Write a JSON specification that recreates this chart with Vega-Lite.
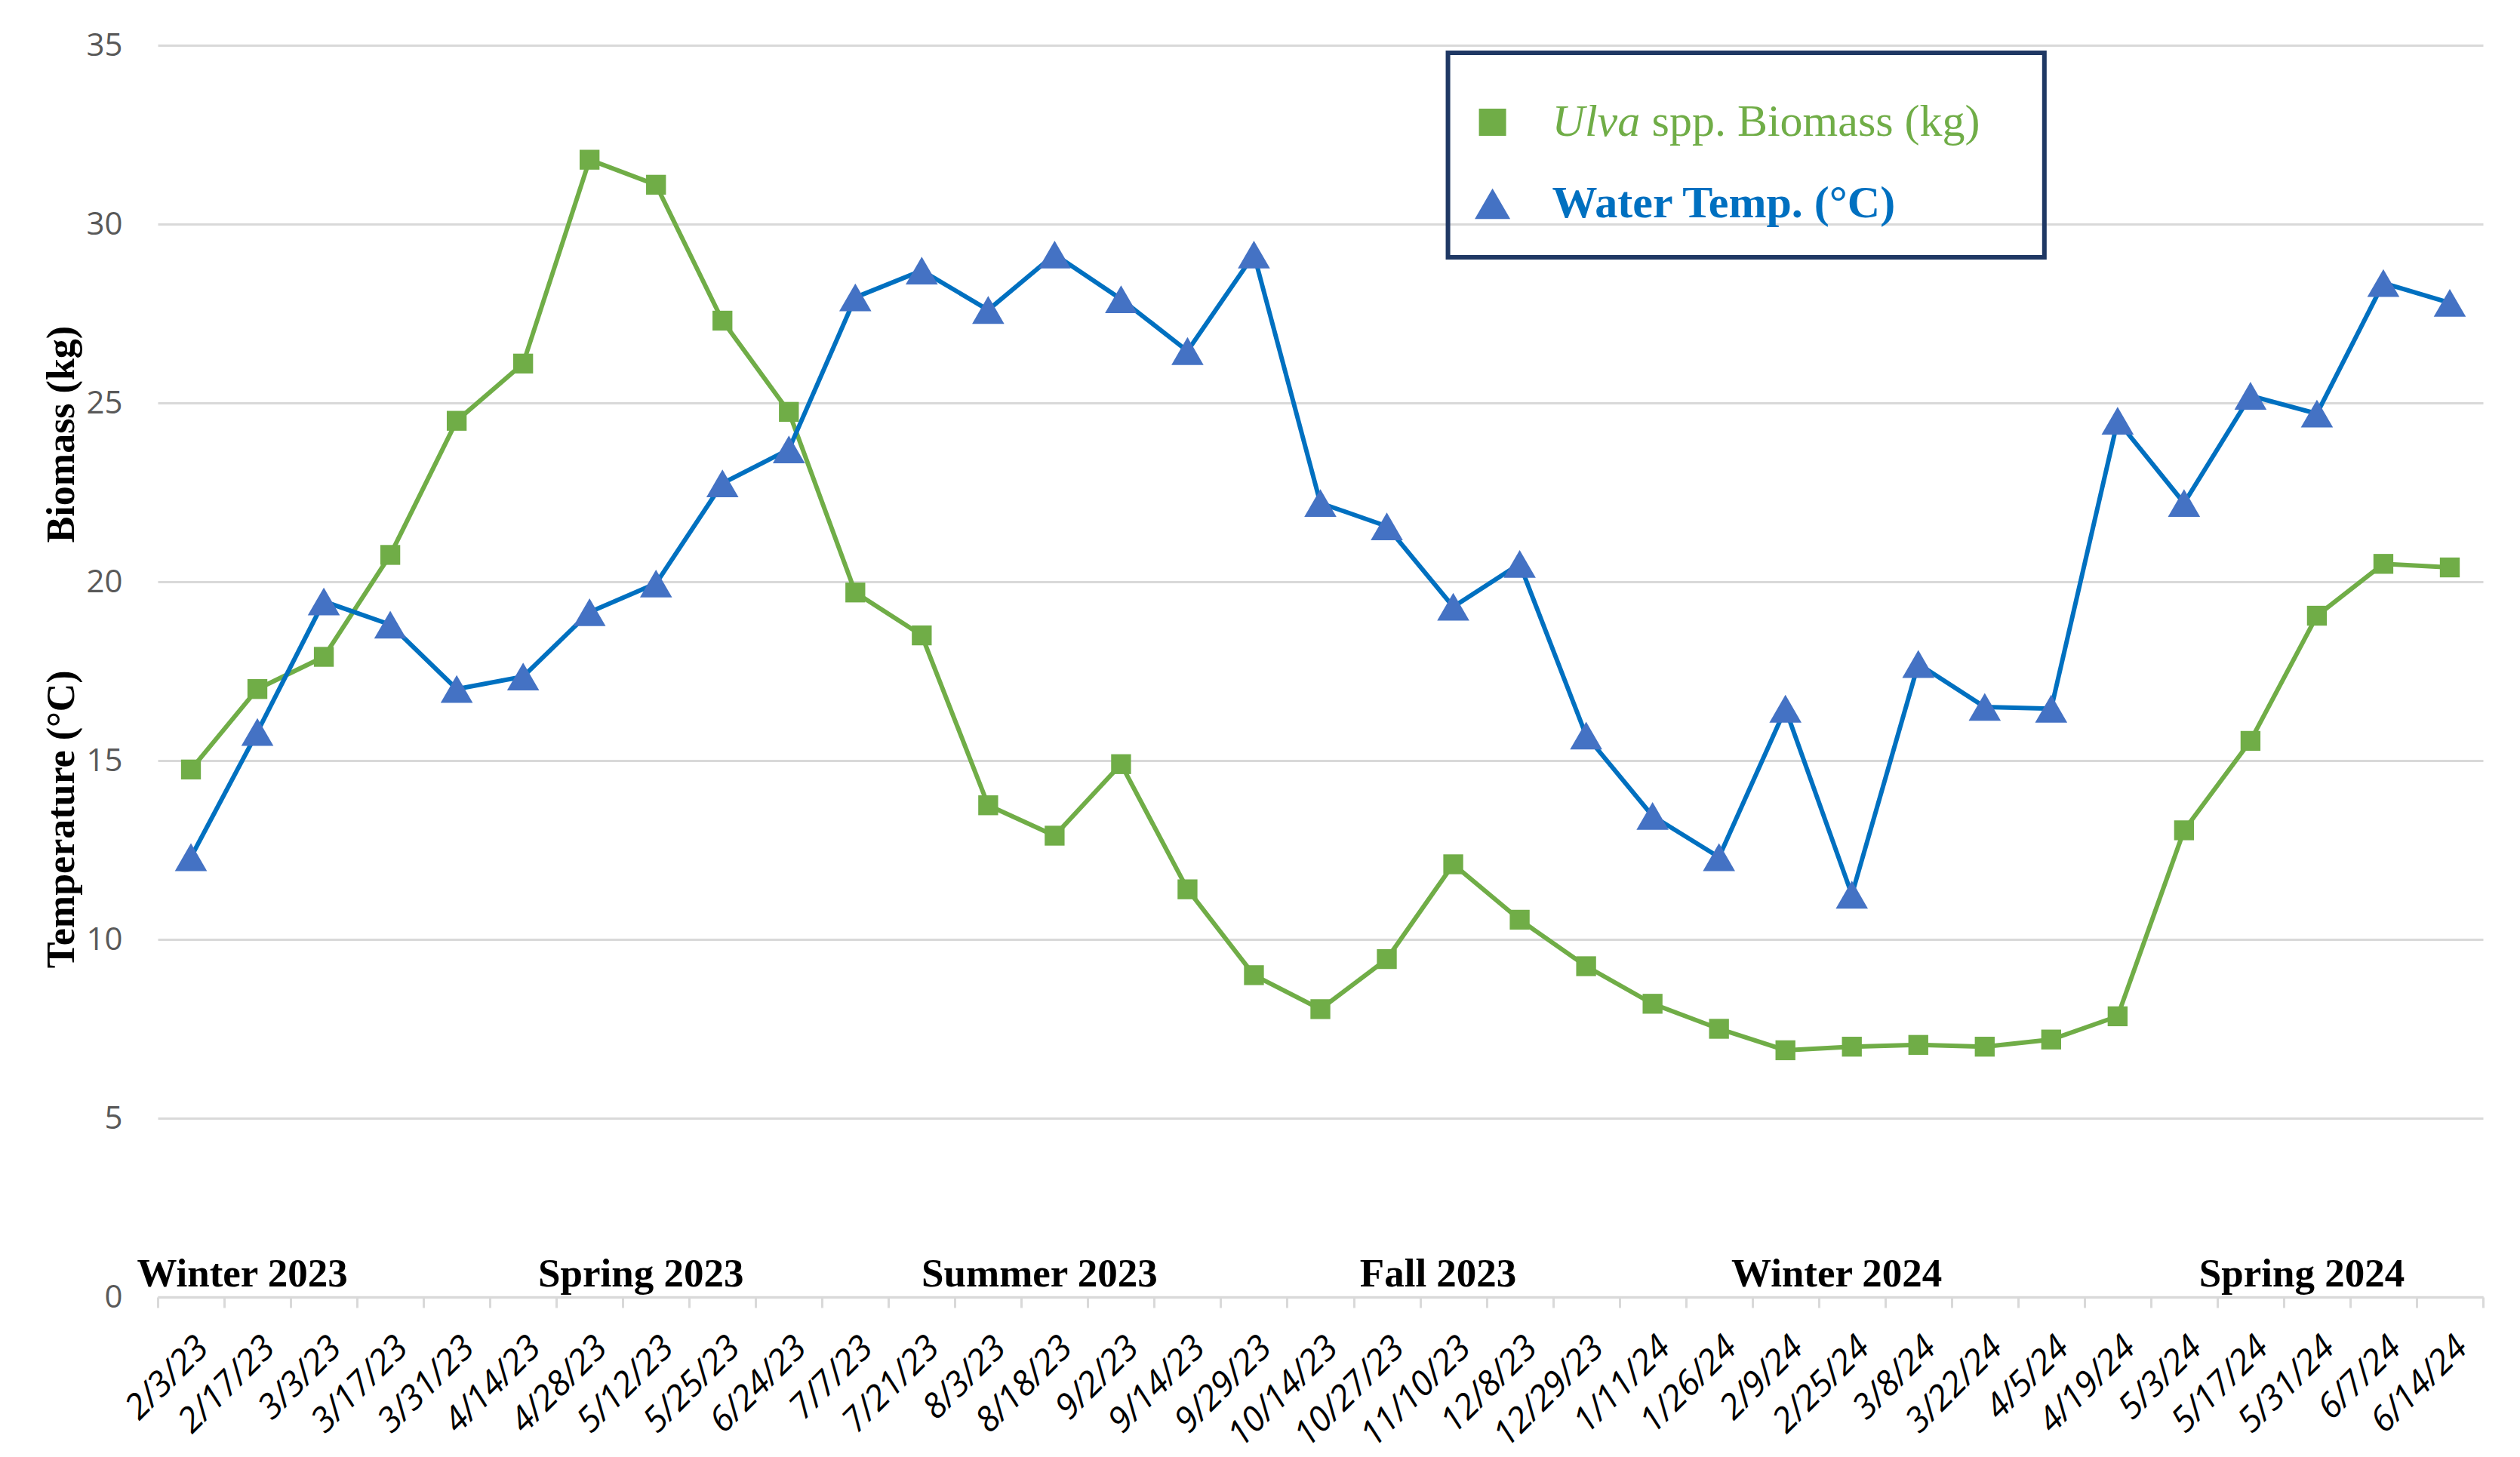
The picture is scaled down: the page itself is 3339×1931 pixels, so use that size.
{
  "$schema": "https://vega.github.io/schema/vega-lite/v6.json",
  "width": 3081,
  "height": 1659,
  "autosize": {"type": "none"},
  "padding": {"left": 209, "top": 60, "right": 49, "bottom": 212},
  "background": "white",
  "config": {
    "view": {"stroke": null}
  },
  "datasets": {
    "series": [
      {"date": "2/3/23", "series": "Ulva spp. Biomass (kg)", "value": 14.75},
      {"date": "2/17/23", "series": "Ulva spp. Biomass (kg)", "value": 17.0},
      {"date": "3/3/23", "series": "Ulva spp. Biomass (kg)", "value": 17.9},
      {"date": "3/17/23", "series": "Ulva spp. Biomass (kg)", "value": 20.75},
      {"date": "3/31/23", "series": "Ulva spp. Biomass (kg)", "value": 24.5},
      {"date": "4/14/23", "series": "Ulva spp. Biomass (kg)", "value": 26.1},
      {"date": "4/28/23", "series": "Ulva spp. Biomass (kg)", "value": 31.8},
      {"date": "5/12/23", "series": "Ulva spp. Biomass (kg)", "value": 31.1},
      {"date": "5/25/23", "series": "Ulva spp. Biomass (kg)", "value": 27.3},
      {"date": "6/24/23", "series": "Ulva spp. Biomass (kg)", "value": 24.75},
      {"date": "7/7/23", "series": "Ulva spp. Biomass (kg)", "value": 19.7},
      {"date": "7/21/23", "series": "Ulva spp. Biomass (kg)", "value": 18.5},
      {"date": "8/3/23", "series": "Ulva spp. Biomass (kg)", "value": 13.75},
      {"date": "8/18/23", "series": "Ulva spp. Biomass (kg)", "value": 12.9},
      {"date": "9/2/23", "series": "Ulva spp. Biomass (kg)", "value": 14.9},
      {"date": "9/14/23", "series": "Ulva spp. Biomass (kg)", "value": 11.4},
      {"date": "9/29/23", "series": "Ulva spp. Biomass (kg)", "value": 9.0},
      {"date": "10/14/23", "series": "Ulva spp. Biomass (kg)", "value": 8.05},
      {"date": "10/27/23", "series": "Ulva spp. Biomass (kg)", "value": 9.45},
      {"date": "11/10/23", "series": "Ulva spp. Biomass (kg)", "value": 12.1},
      {"date": "12/8/23", "series": "Ulva spp. Biomass (kg)", "value": 10.55},
      {"date": "12/29/23", "series": "Ulva spp. Biomass (kg)", "value": 9.25},
      {"date": "1/11/24", "series": "Ulva spp. Biomass (kg)", "value": 8.2},
      {"date": "1/26/24", "series": "Ulva spp. Biomass (kg)", "value": 7.5},
      {"date": "2/9/24", "series": "Ulva spp. Biomass (kg)", "value": 6.9},
      {"date": "2/25/24", "series": "Ulva spp. Biomass (kg)", "value": 7.0},
      {"date": "3/8/24", "series": "Ulva spp. Biomass (kg)", "value": 7.05},
      {"date": "3/22/24", "series": "Ulva spp. Biomass (kg)", "value": 7.0},
      {"date": "4/5/24", "series": "Ulva spp. Biomass (kg)", "value": 7.2},
      {"date": "4/19/24", "series": "Ulva spp. Biomass (kg)", "value": 7.85},
      {"date": "5/3/24", "series": "Ulva spp. Biomass (kg)", "value": 13.05},
      {"date": "5/17/24", "series": "Ulva spp. Biomass (kg)", "value": 15.55},
      {"date": "5/31/24", "series": "Ulva spp. Biomass (kg)", "value": 19.05},
      {"date": "6/7/24", "series": "Ulva spp. Biomass (kg)", "value": 20.5},
      {"date": "6/14/24", "series": "Ulva spp. Biomass (kg)", "value": 20.4},
      {"date": "2/3/23", "series": "Water Temp. (°C)", "value": 12.3},
      {"date": "2/17/23", "series": "Water Temp. (°C)", "value": 15.8},
      {"date": "3/3/23", "series": "Water Temp. (°C)", "value": 19.45},
      {"date": "3/17/23", "series": "Water Temp. (°C)", "value": 18.8},
      {"date": "3/31/23", "series": "Water Temp. (°C)", "value": 17.0},
      {"date": "4/14/23", "series": "Water Temp. (°C)", "value": 17.35},
      {"date": "4/28/23", "series": "Water Temp. (°C)", "value": 19.15},
      {"date": "5/12/23", "series": "Water Temp. (°C)", "value": 19.95},
      {"date": "5/25/23", "series": "Water Temp. (°C)", "value": 22.75},
      {"date": "6/24/23", "series": "Water Temp. (°C)", "value": 23.7},
      {"date": "7/7/23", "series": "Water Temp. (°C)", "value": 27.95},
      {"date": "7/21/23", "series": "Water Temp. (°C)", "value": 28.7},
      {"date": "8/3/23", "series": "Water Temp. (°C)", "value": 27.6},
      {"date": "8/18/23", "series": "Water Temp. (°C)", "value": 29.15},
      {"date": "9/2/23", "series": "Water Temp. (°C)", "value": 27.9},
      {"date": "9/14/23", "series": "Water Temp. (°C)", "value": 26.45},
      {"date": "9/29/23", "series": "Water Temp. (°C)", "value": 29.15},
      {"date": "10/14/23", "series": "Water Temp. (°C)", "value": 22.2},
      {"date": "10/27/23", "series": "Water Temp. (°C)", "value": 21.55},
      {"date": "11/10/23", "series": "Water Temp. (°C)", "value": 19.3},
      {"date": "12/8/23", "series": "Water Temp. (°C)", "value": 20.5},
      {"date": "12/29/23", "series": "Water Temp. (°C)", "value": 15.7},
      {"date": "1/11/24", "series": "Water Temp. (°C)", "value": 13.45},
      {"date": "1/26/24", "series": "Water Temp. (°C)", "value": 12.3},
      {"date": "2/9/24", "series": "Water Temp. (°C)", "value": 16.45},
      {"date": "2/25/24", "series": "Water Temp. (°C)", "value": 11.25},
      {"date": "3/8/24", "series": "Water Temp. (°C)", "value": 17.7},
      {"date": "3/22/24", "series": "Water Temp. (°C)", "value": 16.5},
      {"date": "4/5/24", "series": "Water Temp. (°C)", "value": 16.45},
      {"date": "4/19/24", "series": "Water Temp. (°C)", "value": 24.5},
      {"date": "5/3/24", "series": "Water Temp. (°C)", "value": 22.2},
      {"date": "5/17/24", "series": "Water Temp. (°C)", "value": 25.2},
      {"date": "5/31/24", "series": "Water Temp. (°C)", "value": 24.7},
      {"date": "6/7/24", "series": "Water Temp. (°C)", "value": 28.35},
      {"date": "6/14/24", "series": "Water Temp. (°C)", "value": 27.8}
    ],
    "seasons": [
      {"date": "2/17/23", "season": "Winter 2023", "level": 0.3},
      {"date": "5/12/23", "season": "Spring 2023", "level": 0.3},
      {"date": "8/18/23", "season": "Summer 2023", "level": 0.3},
      {"date": "11/10/23", "season": "Fall 2023", "level": 0.3},
      {"date": "2/25/24", "season": "Winter 2024", "level": 0.3},
      {"date": "5/31/24", "season": "Spring 2024", "level": 0.3}
    ]
  },
  "layer": [
    {
      "data": {"name": "series"},
      "mark": {"type": "line", "strokeWidth": 6},
      "encoding": {
        "x": {
          "field": "date",
          "type": "nominal",
          "scale": {
            "type": "band",
            "paddingInner": 0,
            "paddingOuter": 0,
            "domain": ["2/3/23", "2/17/23", "3/3/23", "3/17/23", "3/31/23", "4/14/23", "4/28/23", "5/12/23", "5/25/23", "6/24/23", "7/7/23", "7/21/23", "8/3/23", "8/18/23", "9/2/23", "9/14/23", "9/29/23", "10/14/23", "10/27/23", "11/10/23", "12/8/23", "12/29/23", "1/11/24", "1/26/24", "2/9/24", "2/25/24", "3/8/24", "3/22/24", "4/5/24", "4/19/24", "5/3/24", "5/17/24", "5/31/24", "6/7/24", "6/14/24"]
          },
          "axis": {
            "title": null,
            "labelAngle": -45,
            "labelAlign": "right",
            "labelBaseline": "top",
            "labelFont": "Open Sans",
            "labelFontStyle": "italic",
            "labelFontSize": 46,
            "labelColor": "black",
            "labelPadding": 30,
            "labelLimit": 0,
            "labelOverlap": false,
            "labelBound": false,
            "tickBand": "extent",
            "tickSize": 14,
            "tickColor": "#D9D9D9",
            "tickWidth": 3,
            "domainColor": "#D9D9D9",
            "domainWidth": 3.5,
            "grid": false
          }
        },
        "y": {
          "field": "value",
          "type": "quantitative",
          "scale": {"domain": [0, 35], "nice": false},
          "axis": {
            "values": [0, 5, 10, 15, 20, 25, 30, 35],
            "grid": true,
            "gridColor": "#D9D9D9",
            "gridWidth": 3,
            "domain": false,
            "ticks": false,
            "labelFont": "Open Sans",
            "labelFontSize": 42,
            "labelColor": "#595959",
            "labelPadding": 47,
            "title": "Temperature (°C)\u00a0\u00a0\u00a0\u00a0\u00a0\u00a0\u00a0\u00a0\u00a0\u00a0\u00a0\u00a0\u00a0Biomass (kg)",
            "titleFont": "Liberation Serif",
            "titleFontWeight": "bold",
            "titleFontSize": 52,
            "titleColor": "black",
            "titleAngle": -90,
            "titleX": -128,
            "titleY": 797,
            "titleAlign": "center",
            "titleBaseline": "middle"
          }
        },
        "color": {
          "field": "series",
          "type": "nominal",
          "scale": {"domain": ["Ulva spp. Biomass (kg)", "Water Temp. (°C)"], "range": ["#70AD47", "#0070C0"]},
          "legend": null
        }
      }
    },
    {
      "data": {"name": "series"},
      "mark": {"type": "point", "filled": true, "opacity": 1, "strokeWidth": 0, "size": 1500},
      "encoding": {
        "x": {"field": "date", "type": "nominal"},
        "y": {"field": "value", "type": "quantitative"},
        "fill": {
          "field": "series",
          "type": "nominal",
          "scale": {"domain": ["Ulva spp. Biomass (kg)", "Water Temp. (°C)"], "range": ["#70AD47", "#4472C4"]},
          "legend": null
        },
        "shape": {
          "field": "series",
          "type": "nominal",
          "scale": {"domain": ["Ulva spp. Biomass (kg)", "Water Temp. (°C)"], "range": ["M-0.68,-0.68H0.68V0.68H-0.68Z", "M0,-0.95L1.1,0.95L-1.1,0.95Z"]},
          "legend": null
        }
      }
    },
    {
      "data": {"name": "seasons"},
      "mark": {"type": "text", "font": "Liberation Serif", "fontWeight": "bold", "fontSize": 53, "fill": "black", "baseline": "alphabetic", "align": "center", "dx": -20},
      "encoding": {
        "x": {"field": "date", "type": "nominal"},
        "y": {"field": "level", "type": "quantitative"},
        "text": {"field": "season", "type": "nominal"}
      }
    },
    {
      "data": {"values": [{"legend": "box"}]},
      "mark": {"type": "rect", "filled": false, "stroke": "#1F3864", "strokeWidth": 6, "xOffset": -7, "x2Offset": -9},
      "encoding": {
        "x": {"datum": "11/10/23", "bandPosition": 0.5},
        "x2": {"datum": "4/5/24", "bandPosition": 0.5},
        "y": {"datum": 34.79},
        "y2": {"datum": 29.07}
      }
    },
    {
      "data": {"values": [{"series": "Ulva spp. Biomass (kg)"}]},
      "mark": {"type": "point", "filled": true, "fill": "#70AD47", "opacity": 1, "strokeWidth": 0, "size": 2800, "shape": "M-0.68,-0.68H0.68V0.68H-0.68Z", "xOffset": -36},
      "encoding": {
        "x": {"datum": "12/8/23"},
        "y": {"datum": 32.85}
      }
    },
    {
      "data": {"values": [{"series": "Water Temp. (°C)"}]},
      "mark": {"type": "point", "filled": true, "fill": "#4472C4", "opacity": 1, "strokeWidth": 0, "size": 1830, "shape": "M0,-0.95L1.1,0.95L-1.1,0.95Z", "xOffset": -36},
      "encoding": {
        "x": {"datum": "12/8/23"},
        "y": {"datum": 30.57}
      }
    },
    {
      "data": {"values": [{"part": "Ulva"}]},
      "mark": {"type": "text", "font": "Liberation Serif", "fontStyle": "italic", "fontSize": 60, "fill": "#70AD47", "align": "left", "baseline": "middle", "dx": 43},
      "encoding": {
        "x": {"datum": "12/8/23"},
        "y": {"datum": 32.85},
        "text": {"field": "part", "type": "nominal"}
      }
    },
    {
      "data": {"values": [{"part": "spp. Biomass (kg)"}]},
      "mark": {"type": "text", "font": "Liberation Serif", "fontSize": 60, "fill": "#70AD47", "align": "left", "baseline": "middle", "dx": 175},
      "encoding": {
        "x": {"datum": "12/8/23"},
        "y": {"datum": 32.85},
        "text": {"field": "part", "type": "nominal"}
      }
    },
    {
      "data": {"values": [{"part": "Water Temp. (°C)"}]},
      "mark": {"type": "text", "font": "Liberation Serif", "fontWeight": "bold", "fontSize": 60, "fill": "#0070C0", "align": "left", "baseline": "middle", "dx": 43},
      "encoding": {
        "x": {"datum": "12/8/23"},
        "y": {"datum": 30.57},
        "text": {"field": "part", "type": "nominal"}
      }
    }
  ]
}
